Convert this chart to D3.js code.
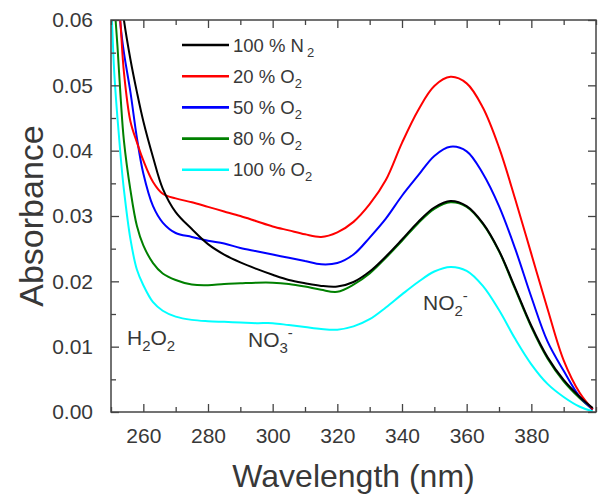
<!DOCTYPE html>
<html>
<head>
<meta charset="utf-8">
<script src="https://cdn.jsdelivr.net/npm/d3@7"></script>
<style>
  html, body { margin: 0; padding: 0; background: #fff; }
  svg { display: block; font-family: "Liberation Sans", Arial, sans-serif; }
</style>
</head>
<body>
<svg id="chart" width="603" height="497"></svg>
<script>
// ---- data ----
const wavelengths = [250, 251, 252, 253, 254, 256, 258, 260, 263, 266, 270, 275, 280, 285, 290, 295, 300, 305, 310, 315, 320, 325, 330, 335, 340, 345, 350, 355, 360, 365, 370, 375, 380, 385, 390, 395, 399];

const n2_100 = [0.085, 0.076, 0.069, 0.064, 0.0600, 0.0540, 0.0490, 0.0445, 0.0390, 0.0342, 0.0306, 0.0280, 0.0257, 0.0241, 0.0229, 0.0219, 0.0210, 0.0202, 0.0197, 0.0193, 0.0192, 0.0199, 0.0215, 0.0238, 0.0264, 0.0291, 0.0313, 0.0323, 0.0315, 0.0289, 0.0247, 0.0190, 0.0132, 0.0084, 0.0049, 0.0023, 0.0006];
const o2_20  = [0.085, 0.074, 0.066, 0.059, 0.0520, 0.0445, 0.0413, 0.0385, 0.0352, 0.0334, 0.0327, 0.0321, 0.0314, 0.0307, 0.0300, 0.0292, 0.0284, 0.0278, 0.0272, 0.0268, 0.0275, 0.0291, 0.0318, 0.0355, 0.0412, 0.0462, 0.0499, 0.0513, 0.0503, 0.0466, 0.0405, 0.0326, 0.0242, 0.0158, 0.0079, 0.0029, 0.0004];
const o2_50  = [0.085, 0.072, 0.066, 0.059, 0.0550, 0.0490, 0.0420, 0.0365, 0.0315, 0.0290, 0.0274, 0.0268, 0.0262, 0.0258, 0.0251, 0.0246, 0.0241, 0.0236, 0.0231, 0.0226, 0.0228, 0.0241, 0.0267, 0.0296, 0.0331, 0.0362, 0.0392, 0.0406, 0.0399, 0.0365, 0.0315, 0.0250, 0.0176, 0.0108, 0.0063, 0.0023, 0.0004];
const o2_80  = [0.072, 0.063, 0.056, 0.048, 0.0415, 0.0340, 0.0285, 0.0255, 0.0228, 0.0212, 0.0202, 0.0195, 0.0194, 0.0196, 0.0197, 0.0198, 0.0198, 0.0196, 0.0192, 0.0187, 0.0184, 0.0195, 0.0212, 0.0236, 0.0262, 0.0289, 0.0311, 0.0321, 0.0314, 0.0288, 0.0246, 0.0188, 0.0130, 0.0082, 0.0047, 0.0021, 0.0004];
const o2_100 = [0.064, 0.052, 0.045, 0.039, 0.0340, 0.0265, 0.0218, 0.0194, 0.0168, 0.0155, 0.0146, 0.0141, 0.0139, 0.0138, 0.0137, 0.0136, 0.0136, 0.0133, 0.0130, 0.0127, 0.0126, 0.0131, 0.0142, 0.0160, 0.0180, 0.0199, 0.0215, 0.0222, 0.0216, 0.0193, 0.0156, 0.0112, 0.0073, 0.0043, 0.0023, 0.0008, 0.0001];

const seriesNames = ["100 % N", "20 % O", "50 % O", "80 % O", "100 % O"];
const seriesSubs  = ["2", "2", "2", "2", "2"];
const seriesColors = ["#000000", "#ff0000", "#0000ff", "#008000", "#00ffff"];
const seriesValues = [n2_100, o2_20, o2_50, o2_80, o2_100];

const xTicks = [260, 280, 300, 320, 340, 360, 380];
const yTicks = [0.00, 0.01, 0.02, 0.03, 0.04, 0.05, 0.06];

// ---- layout ----
const svg = d3.select("#chart");
const L = 111, R = 596, T = 20, B = 412;
const textColor = "#383838";
const axisColor = "#444";

const x = d3.scaleLinear().domain([250, 400]).range([L, R]);
const y = d3.scaleLinear().domain([0, 0.06]).range([B, T]);

svg.append("defs").append("clipPath").attr("id", "clip")
  .append("rect").attr("x", L).attr("y", T).attr("width", R - L).attr("height", B - T);

const line = d3.line()
  .x((d, i) => x(wavelengths[i]))
  .y(d => y(d))
  .curve(d3.curveCatmullRom.alpha(0.5));

const gLines = svg.append("g").attr("clip-path", "url(#clip)");
const order = [4, 3, 2, 1, 0];
order.forEach(k => {
  gLines.append("path")
    .datum(seriesValues[k])
    .attr("d", line)
    .attr("fill", "none")
    .attr("stroke", seriesColors[k])
    .attr("stroke-width", 2)
    .attr("stroke-linejoin", "round");
});

const xMinor = d3.range(250, 401, 10).filter(v => !xTicks.includes(v));
const yMinor = d3.range(0.005, 0.06, 0.01);

function styleAxis(g) {
  g.selectAll(".domain").remove();
  g.selectAll(".tick line").attr("stroke", axisColor).attr("stroke-width", 1.3);
  g.selectAll(".tick text").attr("fill", textColor).style("font-size", "21px")
    .style("font-family", '"Liberation Sans", Arial, sans-serif');
}

svg.append("g").attr("transform", `translate(0,${B})`)
  .call(d3.axisBottom(x).tickValues(xTicks).tickSizeInner(-8).tickSizeOuter(0).tickPadding(16).tickFormat(d3.format("d")))
  .call(styleAxis);
svg.append("g").attr("transform", `translate(0,${B})`)
  .call(d3.axisBottom(x).tickValues(xMinor).tickSize(-5).tickFormat(""))
  .call(styleAxis);
svg.append("g").attr("transform", `translate(0,${T})`)
  .call(d3.axisTop(x).tickValues(xTicks).tickSize(-8).tickFormat(""))
  .call(styleAxis);
svg.append("g").attr("transform", `translate(0,${T})`)
  .call(d3.axisTop(x).tickValues(xMinor).tickSize(-5).tickFormat(""))
  .call(styleAxis);
svg.append("g").attr("transform", `translate(${L},0)`)
  .call(d3.axisLeft(y).tickValues(yTicks).tickSizeInner(-8).tickSizeOuter(0).tickPadding(18).tickFormat(d3.format(".2f")))
  .call(styleAxis);
svg.append("g").attr("transform", `translate(${L},0)`)
  .call(d3.axisLeft(y).tickValues(yMinor).tickSize(-5).tickFormat(""))
  .call(styleAxis);
svg.append("g").attr("transform", `translate(${R},0)`)
  .call(d3.axisRight(y).tickValues(yTicks).tickSize(-8).tickFormat(""))
  .call(styleAxis);
svg.append("g").attr("transform", `translate(${R},0)`)
  .call(d3.axisRight(y).tickValues(yMinor).tickSize(-5).tickFormat(""))
  .call(styleAxis);

svg.append("rect").attr("x", L).attr("y", T).attr("width", R - L).attr("height", B - T)
  .attr("fill", "none").attr("stroke", axisColor).attr("stroke-width", 1.5);

svg.append("text")
  .attr("x", (L + R) / 2).attr("y", 487)
  .attr("text-anchor", "middle").attr("fill", textColor)
  .style("font-size", "32px")
  .text("Wavelength (nm)");

svg.append("text")
  .attr("transform", `translate(43,${(T + B) / 2}) rotate(-90)`)
  .attr("text-anchor", "middle").attr("fill", textColor)
  .style("font-size", "34px")
  .text("Absorbance");

const leg = svg.append("g");
seriesNames.forEach((name, i) => {
  const yy = 45 + i * 31.2;
  leg.append("line").attr("x1", 182).attr("x2", 229).attr("y1", yy).attr("y2", yy)
    .attr("stroke", seriesColors[i]).attr("stroke-width", 2.6);
  const t = leg.append("text").attr("x", 233).attr("y", yy + 6.5).attr("fill", textColor)
    .style("font-size", "18.5px");
  t.append("tspan").text(name);
  t.append("tspan").attr("dx", i === 0 ? 3 : 0).attr("dy", 5).style("font-size", "13px").text(seriesSubs[i]);
});

function chem(xp, yp, parts) {
  const t = svg.append("text").attr("x", xp).attr("y", yp).attr("fill", textColor).style("font-size", "21px");
  let shift = 0;
  parts.forEach(p => {
    let dy = 0;
    if (p.sub) dy = 6 - shift;
    else if (p.sup) dy = -9 - shift;
    else dy = -shift;
    shift += dy;
    t.append("tspan").attr("dy", dy).style("font-size", (p.sub || p.sup) ? "15px" : "21px").text(p.t);
  });
}
chem(127, 345, [{t: "H"}, {t: "2", sub: true}, {t: "O"}, {t: "2", sub: true}]);
chem(248, 347, [{t: "NO"}, {t: "3", sub: true}, {t: "-", sup: true}]);
chem(423, 310, [{t: "NO"}, {t: "2", sub: true}, {t: "-", sup: true}]);
</script>
</body>
</html>
